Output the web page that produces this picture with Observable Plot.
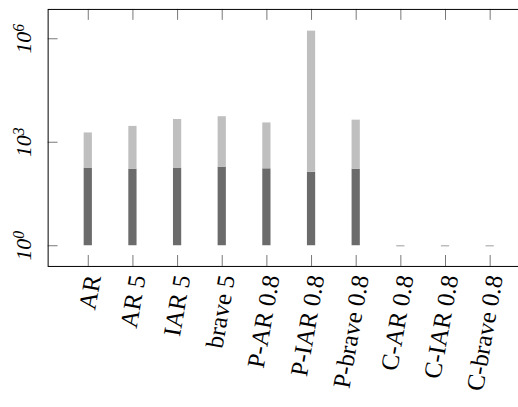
<!DOCTYPE html>
<html><head><meta charset="utf-8">
<script src="https://cdn.jsdelivr.net/npm/d3@7"></script>
<script src="https://cdn.jsdelivr.net/npm/@observablehq/plot@0.6"></script>
<style>html,body{margin:0;padding:0;background:#fff;overflow:hidden}</style>
</head><body><div id="chart"></div>
<script>
const categories = ["AR","AR 5","IAR 5","brave 5","P-AR 0.8","P-IAR 0.8","P-brave 0.8","C-AR 0.8","C-IAR 0.8","C-brave 0.8"];
const lowerValues = [178, 166, 178, 190, 170, 135, 166, 1, 1, 1];
const upperValues = [1860, 2880, 4570, 5500, 3630, 1660000, 4370, 1, 1, 1];
const yTickValues = [1, 1e3, 1e6];
const yTickLabels = ["10^0", "10^3", "10^6"];

const rows = categories.map((c, i) => ({cat: c, lo: lowerValues[i], hi: upperValues[i]}));
const serif = "'Liberation Serif', 'Times New Roman', serif";

const W = 522, H = 407, mL = 48, mR = 0, mT = 9, mB = 139;
const frameH = H - mT - mB, frameW = W - mL - mR;
const tickLen = 11, tickColor = "#777777";

const chart = Plot.plot({
  width: W,
  height: H,
  marginLeft: mL,
  marginRight: mR,
  marginTop: mT,
  marginBottom: mB,
  style: {fontFamily: serif, fontSize: "24px", background: "#fff", overflow: "hidden"},
  x: {type: "band", domain: categories, paddingInner: 0.8156, paddingOuter: 0.6745, align: 0.598, round: false, axis: null},
  y: {type: "log", domain: [10 ** -0.6, 10 ** 6.85], axis: null},
  marks: [
    Plot.rectY(rows.filter(d => d.lo > 1), {x: "cat", y1: () => 1, y2: "lo", fill: "#6b6b6b"}),
    Plot.rectY(rows.filter(d => d.hi > d.lo), {x: "cat", y1: "lo", y2: "hi", fill: "#bfbfbf"}),
    Plot.tickY(rows.filter(d => d.hi <= 1), {x: "cat", y: "hi", stroke: "#bdbdbd", strokeWidth: 1.5}),
    // inward tick marks (bottom, top, left)
    Plot.tickX(categories, {x: d => d, stroke: tickColor, insetTop: frameH - tickLen}),
    Plot.tickX(categories, {x: d => d, stroke: tickColor, insetBottom: frameH - tickLen}),
    Plot.tickY(yTickValues, {y: d => d, stroke: tickColor, insetRight: frameW - tickLen + 1}),
    Plot.text(categories, {x: d => d, frameAnchor: "bottom", rotate: -80, textAnchor: "end", lineAnchor: "middle", dx: 5, dy: 9, fontSize: 25, fill: "#000"}),
    Plot.text(yTickValues, {y: d => d, text: (d, i) => yTickLabels[i], frameAnchor: "left", dx: -24, rotate: -90, textAnchor: "middle", lineAnchor: "middle", fontSize: 22, fontStyle: "italic", fill: "#000"}),
    Plot.frame({stroke: "#000", strokeWidth: 1})
  ]
});

// render superscripts for the y tick labels
d3.select(chart).selectAll("text").each(function() {
  const t = this.textContent;
  if (t.includes("^")) {
    const [base, exp] = t.split("^");
    const sel = d3.select(this);
    sel.text(base);
    sel.append("tspan").attr("dy", "-0.45em").attr("font-size", "0.72em").text(exp);
  }
});

document.getElementById("chart").appendChild(chart);
</script>
</body></html>
